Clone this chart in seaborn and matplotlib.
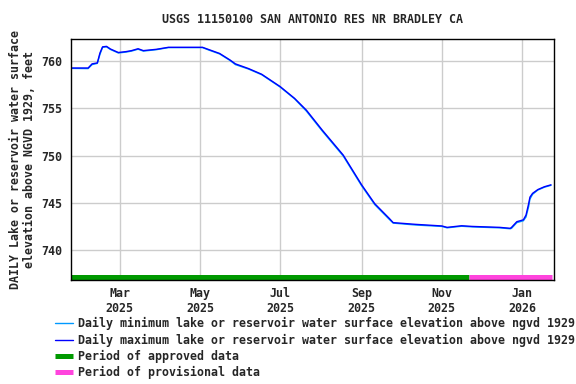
import pandas as pd
import matplotlib
matplotlib.use("Agg")
import matplotlib.pyplot as plt
from matplotlib.lines import Line2D
import seaborn as sns

# values
dates = ["2025-01-24", "2025-02-05", "2025-02-08", "2025-02-12", "2025-02-14", "2025-02-16",
         "2025-02-19", "2025-02-22", "2025-02-28", "2025-03-06", "2025-03-10", "2025-03-15",
         "2025-03-19", "2025-03-29", "2025-04-07", "2025-05-03", "2025-05-08", "2025-05-16",
         "2025-05-24", "2025-05-28", "2025-06-07", "2025-06-17", "2025-07-01", "2025-07-12",
         "2025-07-21", "2025-08-02", "2025-08-18", "2025-09-01", "2025-09-11", "2025-09-22",
         "2025-09-25", "2025-10-12", "2025-11-01", "2025-11-05", "2025-11-16", "2025-11-24",
         "2025-12-15", "2025-12-23", "2025-12-24", "2025-12-28", "2026-01-02", "2026-01-04",
         "2026-01-06", "2026-01-07", "2026-01-09", "2026-01-13", "2026-01-18", "2026-01-23"]
max_elev = [759.26, 759.26, 759.70, 759.80, 760.85, 761.50,
            761.55, 761.27, 760.90, 761.00, 761.10, 761.30,
            761.10, 761.24, 761.45, 761.45, 761.20, 760.80,
            760.10, 759.70, 759.20, 758.60, 757.30, 756.05,
            754.80, 752.70, 750.05, 746.90, 744.90, 743.35,
            742.90, 742.72, 742.55, 742.40, 742.57, 742.50,
            742.40, 742.30, 742.40, 743.00, 743.20, 743.70,
            744.90, 745.60, 746.00, 746.40, 746.70, 746.90]
min_elev = [759.22, 759.20, 759.62, 759.75, 760.70, 761.45,
            761.50, 761.22, 760.85, 760.95, 761.05, 761.25,
            761.05, 761.20, 761.42, 761.42, 761.15, 760.75,
            760.05, 759.62, 759.15, 758.55, 757.25, 756.00,
            754.70, 752.60, 749.95, 746.80, 744.80, 743.25,
            742.85, 742.65, 742.50, 742.35, 742.52, 742.45,
            742.35, 742.25, 742.30, 742.90, 743.10, 743.50,
            744.60, 745.40, 745.90, 746.35, 746.65, 746.85]

approved_period = ["2025-01-23", "2025-11-22"]
provisional_period = ["2025-11-22", "2026-01-24"]

tick_dates = ["2025-03-01", "2025-05-01", "2025-07-01", "2025-09-01", "2025-11-01", "2026-01-01"]
tick_labels = ["Mar\n2025", "May\n2025", "Jul\n2025", "Sep\n2025", "Nov\n2025", "Jan\n2026"]

df = pd.DataFrame({"date": pd.to_datetime(dates), "min": min_elev, "max": max_elev})

sns.set_style("white")
plt.rcParams["font.family"] = ["DejaVu Sans Mono"]
plt.rcParams["font.weight"] = "bold"
fs = 8.4

fig = plt.figure(figsize=(5.76, 3.84), dpi=100)
ax = fig.add_axes([0.1233, 0.2708, 0.839, 0.6269])

#period bars along the bottom
bar_y = 737.18
sns.lineplot(x=pd.to_datetime(approved_period), y=[bar_y, bar_y], color="#009900", lw=3.6,
             solid_capstyle="butt", ax=ax)
sns.lineplot(x=pd.to_datetime(provisional_period), y=[bar_y, bar_y], color="#ff44dd", lw=3.6,
             solid_capstyle="butt", ax=ax)
#daily min / max
sns.lineplot(data=df, x="date", y="min", color="#0099ff", lw=1.0, ax=ax)
sns.lineplot(data=df, x="date", y="max", color="#0000ff", lw=1.0, ax=ax)

ax.set_xlim(pd.Timestamp("2025-01-23"), pd.Timestamp("2026-01-25 12:00"))
ax.set_ylim(736.83, 762.3)
ax.set_yticks([740, 745, 750, 755, 760])
ax.set_xticks(pd.to_datetime(tick_dates))
ax.set_xticklabels(tick_labels, linespacing=1.2)
ax.grid(True, color="#cccccc", lw=1.0)
ax.set_axisbelow(True)
ax.tick_params(axis="x", length=0, labelsize=fs, pad=5)
ax.tick_params(axis="y", length=0, labelsize=fs, pad=6)
for s in ax.spines.values():
    s.set_color("black")
    s.set_linewidth(1.0)

ax.set_xlabel("")
ax.set_ylabel("DAILY Lake or reservoir water surface\nelevation above NGVD 1929, feet",
              fontsize=fs, fontweight="bold", labelpad=4, linespacing=1.1)
fig.text(0.542, 0.95, "USGS 11150100 SAN ANTONIO RES NR BRADLEY CA",
         ha="center", va="center", fontsize=fs, fontweight="bold")

handles = [Line2D([], [], color="#0099ff", lw=1.0),
           Line2D([], [], color="#0000ff", lw=1.0),
           Line2D([], [], color="#009900", lw=3.6, solid_capstyle="butt"),
           Line2D([], [], color="#ff44dd", lw=3.6, solid_capstyle="butt")]
labels = ["Daily minimum lake or reservoir water surface elevation above ngvd 1929",
          "Daily maximum lake or reservoir water surface elevation above ngvd 1929",
          "Period of approved data",
          "Period of provisional data"]
fig.legend(handles, labels, loc="upper left", bbox_to_anchor=(0.095, 0.174), frameon=False,
           fontsize=fs, handlelength=1.6, handletextpad=0.4, labelspacing=0.28,
           borderaxespad=0, borderpad=0)

plt.savefig("out.png", dpi=100)
